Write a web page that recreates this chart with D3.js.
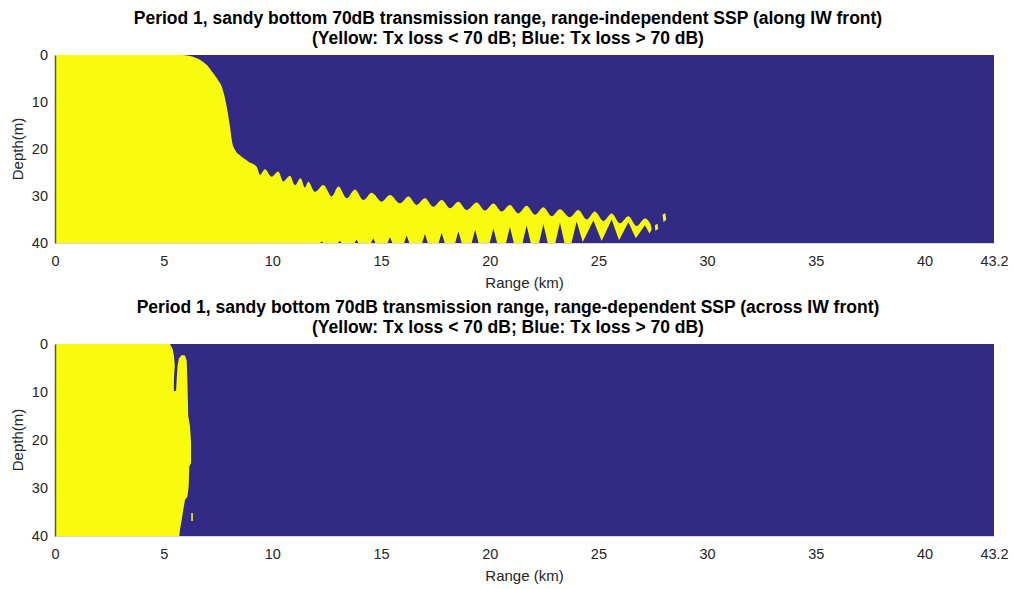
<!DOCTYPE html>
<html>
<head>
  <meta charset="UTF-8">
  <title>Transmission range, period 1</title>
  <style>
    body {
      margin: 0;
      background: #fff;
      font-family: "Liberation Sans", Arial, sans-serif;
      overflow: hidden;
    }
    .title { font-size: 17.5px; font-weight: bold; fill: #000; }
    .tick text { font-size: 14.5px; fill: #262626; }
    .axis-label { font-size: 15px; fill: #262626; }
  </style>
</head>
<body>

<svg id="chart"></svg>

<script src="https://d3js.org/d3.v7.min.js"></script>
<script>
const width = 1014;
const height = 589;

const rangeMax = 43.2;
const depthMax = 40;
const xTicks = [0, 5, 10, 15, 20, 25, 30, 35, 40, 43.2];
const yTicks = [0, 10, 20, 30, 40];

const yellow = "#f9fb0e";
const blue = "#322a85";

// panel 1: range-independent SSP, upper edge of the yellow area (range km, depth m)
const alongTop = [
  [0, 0], [5.83, 0], [6.2, 0.2], [6.67, 1.0], [7.0, 2.2], [7.28, 3.9], [7.5, 5.3], [7.67, 6.7],
  [7.8, 8.8], [7.9, 11.0], [8.05, 15.2], [8.15, 18.5], [8.3, 20.3], [8.5, 21.3], [8.9, 22.7],
  [9.28, 23.8], [9.43, 25.5], [9.66, 24.3],
  [9.97, 25.9], [10.27, 24.8], [10.5, 26.9], [10.81, 25.7], [11.04, 27.7], [11.3, 26.2],
  [11.5, 28.2], [11.65, 26.95], [11.96, 29.1], [12.35, 27.66], [12.73, 30.1], [13.04, 28.0],
  [13.42, 30.5], [13.8, 28.6], [14.19, 30.85], [14.57, 29.3], [15.03, 31.2], [15.41, 29.8],
  [15.87, 31.56], [16.26, 30.1], [16.64, 31.9], [17.02, 30.5], [17.4, 32.3], [17.79, 30.85],
  [18.17, 32.6], [18.56, 31.2], [18.94, 33.0], [19.4, 31.4], [19.78, 33.1], [20.17, 31.6],
  [20.55, 33.3], [20.93, 31.9], [21.32, 33.7], [21.7, 32.1], [22.08, 34.0], [22.47, 32.4],
  [22.85, 34.3], [23.23, 32.8], [23.69, 34.5], [24.08, 33.0], [24.46, 35.0], [24.84, 33.3],
  [25.23, 35.3], [25.61, 33.7], [25.99, 35.8], [26.38, 34.3], [26.76, 36.4], [27.14, 34.8],
  [27.4, 36.0], [27.45, 37.2]
];

// panel 1: lower edge of the yellow area, blue notches rising from the bottom
const alongBottom = [
  [12.0, 40],
  [12.2, 40], [12.27, 39.7], [12.34, 40],
  [13.02, 40], [13.1, 39.5], [13.18, 40],
  [13.78, 40], [13.87, 39.3], [13.96, 40],
  [14.54, 40], [14.64, 39.0], [14.74, 40],
  [15.3, 40], [15.41, 38.7], [15.52, 40],
  [16.06, 40], [16.18, 38.4], [16.3, 40],
  [16.89, 40], [17.02, 38.1], [17.15, 40],
  [17.65, 40], [17.79, 37.8], [17.93, 40],
  [18.41, 40], [18.56, 37.5], [18.71, 40],
  [19.17, 40], [19.33, 37.2], [19.49, 40],
  [20.0, 40], [20.17, 36.9], [20.34, 40],
  [20.75, 40], [20.93, 36.6], [21.11, 40],
  [21.51, 40], [21.7, 36.3], [21.89, 40],
  [22.27, 40], [22.47, 36.0], [22.67, 40],
  [23.02, 40], [23.23, 35.7], [23.44, 40],
  [23.76, 40], [24.0, 35.4], [24.28, 39.8],
  [24.77, 35.2], [25.15, 39.6],
  [25.61, 35.0], [25.95, 39.4],
  [26.38, 35.6], [26.72, 39.0],
  [27.14, 36.2], [27.35, 38.0]
];

const alongIslands = [
  [[27.6, 36.2], [27.72, 35.9], [27.75, 37.0], [27.62, 37.4]],
  [[27.95, 34.0], [28.08, 33.6], [28.12, 35.0], [28.0, 35.6]]
];

// panel 2: range-dependent SSP, outline of the yellow area
const acrossEdge = [
  [0, 0], [5.29, 0], [5.41, 1.05], [5.47, 2.4], [5.51, 4.5], [5.47, 7.3], [5.47, 9.8],
  [5.57, 9.8], [5.6, 7.3], [5.64, 4.5], [5.7, 3.0], [5.83, 2.3], [5.98, 2.4], [6.06, 3.5],
  [6.09, 7.3], [6.13, 15.0], [6.21, 17.1], [6.26, 20.6], [6.26, 24.8], [6.18, 25.5],
  [6.15, 29.7], [6.09, 31.8], [5.98, 32.5], [5.9, 34.6], [5.83, 36.6], [5.75, 38.7],
  [5.72, 40], [0, 40]
];

const acrossIslands = [
  [[6.27, 35.2], [6.34, 35.2], [6.34, 36.9], [6.27, 36.9]]
];

const left = 55, right = 994;

const xScale = d3.scaleLinear().domain([0, rangeMax]).range([left, right]);

const panels = [
  {
    top: 55, bottom: 243,
    title: ["Period 1, sandy bottom 70dB transmission range, range-independent SSP (along IW front)",
            "(Yellow: Tx loss < 70 dB; Blue: Tx loss > 70 dB)"],
    edge: alongTop, lower: alongBottom.slice().reverse().concat([[0, 40]]),
    islands: alongIslands
  },
  {
    top: 344, bottom: 536,
    title: ["Period 1, sandy bottom 70dB transmission range, range-dependent SSP (across IW front)",
            "(Yellow: Tx loss < 70 dB; Blue: Tx loss > 70 dB)"],
    edge: acrossEdge, lower: null,
    islands: acrossIslands
  }
];

const svg = d3.select("#chart")
  .attr("width", width)
  .attr("height", height);

panels.forEach(p => {
  const x = xScale;
  const y = d3.scaleLinear().domain([0, depthMax]).range([p.top, p.bottom]);

  const g = svg.append("g");

  g.append("rect")
    .attr("x", x(0))
    .attr("y", y(0))
    .attr("width", x(rangeMax) - x(0))
    .attr("height", y(depthMax) - y(0))
    .attr("fill", blue);

  const line = d3.line().x(d => x(d[0])).y(d => y(d[1]));
  const smooth = d3.line().x(d => x(d[0])).y(d => y(d[1])).curve(d3.curveMonotoneX);

  // upper edge is smooth (rounded scallops), lower edge straight segments
  let outline;
  if (p.lower) {
    outline = smooth(p.edge) + line(p.lower).replace(/^M/, "L") + "Z";
  } else {
    outline = line(p.edge) + "Z";
  }

  g.append("path")
    .attr("d", outline)
    .attr("fill", yellow);

  g.selectAll("path.island")
    .data(p.islands)
    .join("path")
    .attr("class", "island")
    .attr("d", d => line(d) + "Z")
    .attr("fill", yellow);

  const xAxis = g.append("g")
    .attr("transform", `translate(0,${p.bottom})`)
    .call(d3.axisBottom(x).tickValues(xTicks).tickSize(0).tickPadding(13)
      .tickFormat(d => d === 43.2 ? "43.2" : d3.format("d")(d)));
  xAxis.select(".domain").attr("stroke", "#d8d8d8");

  const yAxis = g.append("g")
    .attr("transform", `translate(${left},0)`)
    .call(d3.axisLeft(y).tickValues(yTicks).tickSize(0).tickPadding(7));
  yAxis.select(".domain").attr("stroke", "#555").attr("stroke-width", 1.5);

  g.selectAll(".tick text").attr("font-family", "Liberation Sans, Arial, sans-serif");

  g.append("text")
    .attr("class", "axis-label")
    .attr("x", (left + right) / 2)
    .attr("y", p.bottom + 45)
    .attr("text-anchor", "middle")
    .text("Range (km)");

  g.append("text")
    .attr("class", "axis-label")
    .attr("transform", `translate(23,${(p.top + p.bottom) / 2}) rotate(-90)`)
    .attr("text-anchor", "middle")
    .text("Depth(m)");

  g.selectAll("text.title")
    .data(p.title)
    .join("text")
    .attr("class", "title")
    .attr("x", 508)
    .attr("y", (d, i) => p.top - 31 + i * 20)
    .attr("text-anchor", "middle")
    .text(d => d);
});
</script>

</body>
</html>
